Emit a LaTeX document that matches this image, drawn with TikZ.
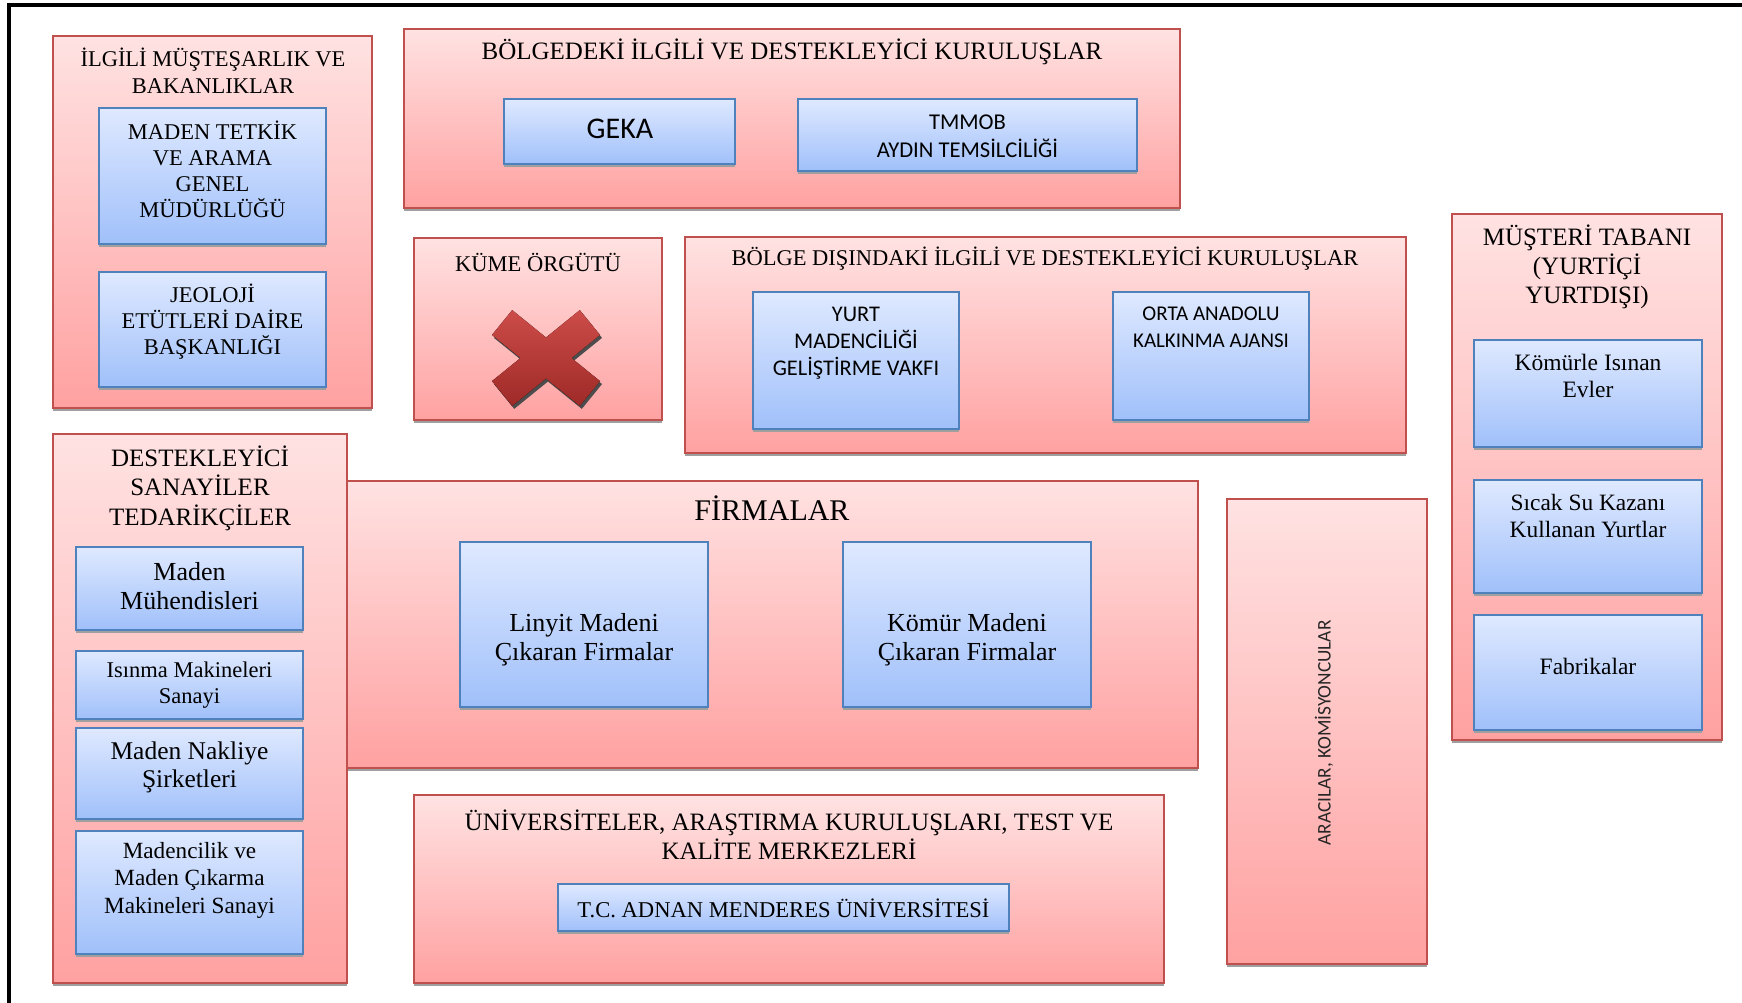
\documentclass[tikz,border=0pt]{standalone}
\usepackage{fontspec}
\setmainfont{Liberation Serif}
\newfontfamily\calibri{Carlito}
\usepackage{tikz}
\usetikzlibrary{shadows,positioning}

\definecolor{pinktop}{HTML}{FFE2E2}
\definecolor{pinkbot}{HTML}{FFA1A1}
\definecolor{redline}{HTML}{C0504D}
\definecolor{bluetop}{HTML}{DFE9FF}
\definecolor{bluebot}{HTML}{A0C0FA}
\definecolor{blueline}{HTML}{4F81BD}
\definecolor{xtop}{HTML}{CC4C49}
\definecolor{xbot}{HTML}{9E2A27}

\tikzset{
  outbox/.style={draw=redline, line width=1.5pt, top color=pinktop, bottom color=pinkbot,
    anchor=north west, inner sep=0pt, outer sep=0pt,
    drop shadow={shadow xshift=0pt, shadow yshift=-3pt, opacity=1, fill=gray!75}},
  inbox/.style={draw=blueline, line width=1.5pt, top color=bluetop, bottom color=bluebot,
    anchor=north west, inner sep=0pt, outer sep=0pt,
    drop shadow={shadow xshift=0pt, shadow yshift=-3pt, opacity=1, fill=gray!75}},
  boxtext/.style 2 args={align=center, inner sep=0pt, font=\fontsize{#1}{#2}\selectfont},
  sanstext/.style 2 args={align=center, inner sep=0pt, font=\calibri\fontsize{#1}{#2}\selectfont},
  xmark/.style={top color=xtop, bottom color=xbot,
    drop shadow={shadow xshift=2pt, shadow yshift=-3pt, opacity=1, fill=gray!60!black}},
}

\begin{document}
\begin{tikzpicture}[x=1pt, y=-1pt]
\useasboundingbox (0,0) rectangle (1742,1003);

% Page frame
\draw[line width=4.5pt] (9,1003) -- (9,5) -- (1742,5);

% Outer boxes
\node[outbox, minimum width=319, minimum height=372] (ilgili) at (53,36) {};
\node[outbox, minimum width=776, minimum height=179] (bolgede) at (404,29) {};
\node[outbox, minimum width=248, minimum height=182] (kume) at (414,238) {};
\node[outbox, minimum width=721, minimum height=216] (disinda) at (685,237) {};
\node[outbox, minimum width=270, minimum height=526] (musteri) at (1452,214) {};
\node[outbox, minimum width=851, minimum height=287] (firma) at (347,481) {};
\node[outbox, minimum width=294, minimum height=549] (destek) at (53,434) {};
\node[outbox, minimum width=200, minimum height=465] (aracilar) at (1227,499) {};
\node[outbox, minimum width=750, minimum height=188] (univ) at (414,795) {};

% Titles
\node[boxtext={22.5}{26.5}] (ilgiliT) at (213,71) {İLGİLİ MÜŞTEŞARLIK VE\\BAKANLIKLAR};
\node[boxtext={25}{29}] (bolgedeT) at (792,52) {BÖLGEDEKİ İLGİLİ VE DESTEKLEYİCİ KURULUŞLAR};
\node[boxtext={22.5}{26.5}] (kumeT) at (538,262) {KÜME ÖRGÜTÜ};
\node[boxtext={22.5}{26.5}] (disindaT) at (1045,259) {BÖLGE DIŞINDAKİ İLGİLİ VE DESTEKLEYİCİ KURULUŞLAR};
\node[boxtext={25}{29}] (musteriT) at (1587,267) {MÜŞTERİ TABANI\\(YURTİÇİ\\YURTDIŞI)};
\node[boxtext={30}{34}] (firmaT) at (772,508) {FİRMALAR};
\node[boxtext={25}{29.5}] (destekT) at (200,488) {DESTEKLEYİCİ\\SANAYİLER\\TEDARİKÇİLER};
\node[sanstext={19.3}{23}, rotate=90, text=black!85] (aracilarT) at (1324,733) {ARACILAR, KOMİSYONCULAR};
\node[boxtext={25}{29}] (univT) at (789,834.5) {ÜNİVERSİTELER, ARAŞTIRMA KURULUŞLARI, TEST VE\\KALİTE MERKEZLERİ};

% Cluster organisation missing
\begin{scope}[shift={(546,358)}]
  \fill[xmark] (33.8,47.9) -- (54,23.1) -- (25.5,0) -- (54,-23.1) -- (33.8,-47.9) -- (0,-20.5)
    -- (-33.8,-47.9) -- (-54,-23.1) -- (-25.5,0) -- (-54,23.1) -- (-33.8,47.9) -- (0,20.5) -- cycle;
\end{scope}

% Inner boxes
\node[inbox, minimum width=227, minimum height=136] (mta) at (99,108) {};
\node[inbox, minimum width=227, minimum height=115] (jeoloji) at (99,272) {};
\node[inbox, minimum width=231, minimum height=65] (geka) at (504,99) {};
\node[inbox, minimum width=339, minimum height=72] (tmmob) at (798,99) {};
\node[inbox, minimum width=206, minimum height=137] (yurt) at (753,292) {};
\node[inbox, minimum width=196, minimum height=128] (orta) at (1113,292) {};
\node[inbox, minimum width=228, minimum height=107] (komurle) at (1474,340) {};
\node[inbox, minimum width=228, minimum height=113] (sicak) at (1474,480) {};
\node[inbox, minimum width=228, minimum height=115] (fabrika) at (1474,615) {};
\node[inbox, minimum width=227, minimum height=83] (muhendis) at (76,547) {};
\node[inbox, minimum width=227, minimum height=68] (isinma) at (76,651) {};
\node[inbox, minimum width=227, minimum height=91] (nakliye) at (76,728) {};
\node[inbox, minimum width=227, minimum height=123] (makine) at (76,831) {};
\node[inbox, minimum width=248, minimum height=165] (linyit) at (460,542) {};
\node[inbox, minimum width=248, minimum height=165] (komur) at (843,542) {};
\node[inbox, minimum width=451, minimum height=47] (adnan) at (558,884) {};

% Inner texts
\node[boxtext={22.5}{26}] (mtaT) at (212.5,169) {MADEN TETKİK\\VE ARAMA\\GENEL\\MÜDÜRLÜĞÜ};
\node[boxtext={22.5}{26}] (jeolojiT) at (212.5,321.5) {JEOLOJİ\\ETÜTLERİ DAİRE\\BAŞKANLIĞI};
\node[sanstext={30}{34}] (gekaT) at (620,129) {GEKA};
\node[sanstext={22.6}{28}] (tmmobT) at (967.5,136) {TMMOB\\AYDIN TEMSİLCİLİĞİ};
\node[sanstext={22.4}{26.7}] (yurtT) at (856,343) {YURT\\MADENCİLİĞİ\\GELİŞTİRME VAKFI};
\node[sanstext={21}{27}] (ortaT) at (1211,327) {ORTA ANADOLU\\KALKINMA AJANSI};
\node[boxtext={23.5}{27}] (komurleT) at (1588,376) {Kömürle Isınan\\Evler};
\node[boxtext={23.4}{27}] (sicakT) at (1588,516) {Sıcak Su Kazanı\\Kullanan Yurtlar};
\node[boxtext={23.5}{27}] (fabrikaT) at (1588,666) {Fabrikalar};
\node[boxtext={26}{29}] (muhendisT) at (189.5,586) {Maden\\Mühendisleri};
\node[boxtext={22.5}{26}] (isinmaT) at (189.5,685) {Isınma Makineleri\\Sanayi};
\node[boxtext={25.5}{28}] (nakliyeT) at (189.5,767) {Maden Nakliye\\Şirketleri};
\node[boxtext={23.2}{27.5}] (makineT) at (189.5,880) {Madencilik ve\\Maden Çıkarma\\Makineleri Sanayi};
\node[boxtext={26}{29}] (linyitT) at (584,640) {Linyit Madeni\\Çıkaran Firmalar};
\node[boxtext={26}{29}] (komurT) at (967,640) {Kömür Madeni\\Çıkaran Firmalar};
\node[boxtext={22.6}{26}] (adnanT) at (783.5,908) {T.C. ADNAN MENDERES ÜNİVERSİTESİ};
\end{tikzpicture}
\end{document}
